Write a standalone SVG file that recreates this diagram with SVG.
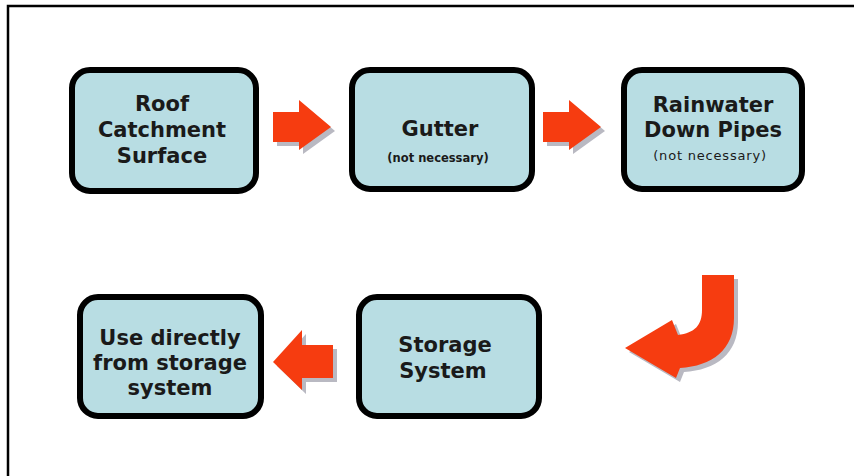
<svg xmlns="http://www.w3.org/2000/svg" width="854" height="476" viewBox="0 0 854 476">
<style>
.box{fill:#b8dde3;stroke:#000;stroke-width:6}
.t{font-family:"DejaVu Sans",Verdana,sans-serif;font-weight:bold;font-size:21px;fill:#1a1a1a;text-anchor:middle}
.s{font-family:"DejaVu Sans",Verdana,sans-serif;font-weight:bold;font-size:11.5px;fill:#1a1a1a;text-anchor:middle}
.s2{font-family:"DejaVu Sans",Verdana,sans-serif;font-size:13px;fill:#1a1a1a;text-anchor:middle;letter-spacing:0.8px}
.arr{fill:#f63c10}
.sh{fill:#b9b9c2}
</style>
<defs>
<path id="ra" d="M0,12 L26,12 L26,0 L58,27 L26,50 L26,42 L0,42 Z"/>
</defs>
<rect width="854" height="476" fill="#fff"/>
<path d="M8,476 L8,6 L854,6" fill="none" stroke="#000" stroke-width="2.5"/>

<g id="connectors">
  <g id="c1"><use href="#ra" x="277" y="104" class="sh"/><use href="#ra" x="273" y="100" class="arr"/></g>
  <g id="c2"><use href="#ra" x="547" y="104" class="sh"/><use href="#ra" x="543" y="100" class="arr"/></g>
  <g id="c3">
    <path class="sh" d="M337,349 L337,382 L306,382 L306,394 L277,366 L306,334 L306,349 Z"/>
    <path class="arr" d="M333,345 L333,378 L302,378 L302,390 L273,362 L302,330 L302,345 Z"/>
  </g>
  <g id="c4">
    <path class="sh" d="M706,279 L738,279 L738,322 C738,354 716,370 684,372 L680,382 L629,352 L676,324 L682,339 C699,337 706,329 706,314 Z"/>
    <path class="arr" d="M702,275 L734,275 L734,318 C734,350 712,366 680,368 L676,378 L625,348 L672,320 L678,335 C695,333 702,325 702,310 Z"/>
  </g>
</g>

<g id="roof">
  <rect class="box" x="72" y="70" width="184" height="121" rx="18"/>
  <text class="t" x="162" y="111">Roof</text>
  <text class="t" x="162" y="137">Catchment</text>
  <text class="t" x="162" y="163">Surface</text>
</g>
<g id="gutter">
  <rect class="box" x="352" y="70" width="180" height="119" rx="18"/>
  <text class="t" x="440" y="136">Gutter</text>
  <text class="s" x="438" y="162">(not necessary)</text>
</g>
<g id="pipes">
  <rect class="box" x="624" y="70" width="178" height="119" rx="18"/>
  <text class="t" x="713" y="112">Rainwater</text>
  <text class="t" x="713" y="137">Down Pipes</text>
  <text class="s2" x="710" y="160">(not necessary)</text>
</g>
<g id="storage">
  <rect class="box" x="359" y="297" width="180" height="119" rx="18"/>
  <text class="t" x="445" y="352">Storage</text>
  <text class="t" x="443" y="378">System</text>
</g>
<g id="use">
  <rect class="box" x="80" y="297" width="181" height="119" rx="18"/>
  <text class="t" x="170" y="345">Use directly</text>
  <text class="t" x="170" y="370">from storage</text>
  <text class="t" x="170" y="395">system</text>
</g>
</svg>
